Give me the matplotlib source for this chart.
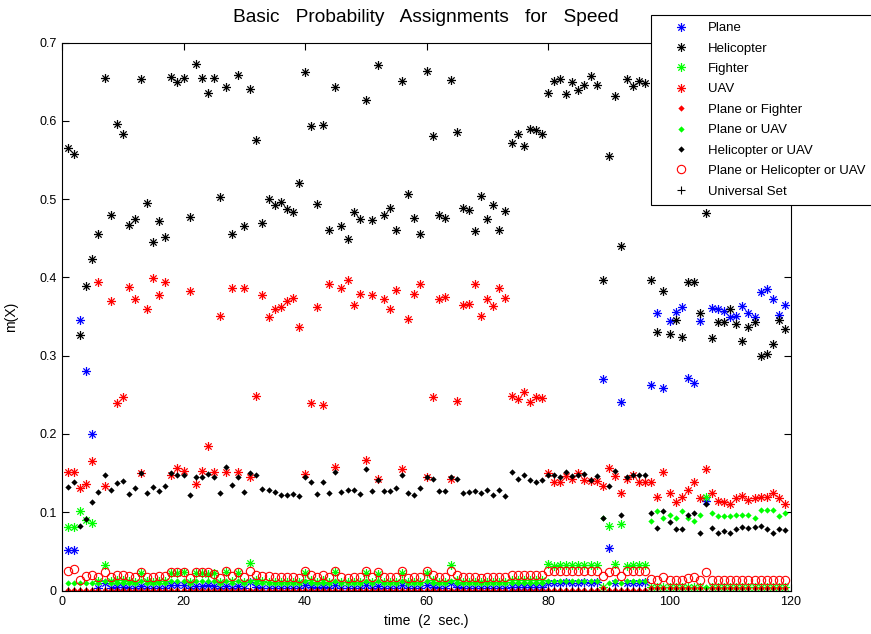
import matplotlib
matplotlib.use("Agg")
import matplotlib.pyplot as plt
from matplotlib.path import Path

plt.rcParams['font.family'] = ['Liberation Sans', 'DejaVu Sans']

# time steps (one every 2 sec.)
time = list(range(1, 120))

plane = [
    0.052, 0.052, 0.345, 0.280, 0.200, 0.003, 0.010, 0.003, 0.004, 0.004,
    0.003, 0.003, 0.006, 0.003, 0.003, 0.003, 0.003, 0.007, 0.007, 0.007,
    0.003, 0.006, 0.006, 0.007, 0.006, 0.003, 0.006, 0.003, 0.006, 0.003,
    0.011, 0.004, 0.003, 0.003, 0.003, 0.003, 0.003, 0.003, 0.003, 0.007,
    0.004, 0.003, 0.004, 0.003, 0.007, 0.003, 0.003, 0.003, 0.003, 0.007,
    0.003, 0.006, 0.003, 0.003, 0.003, 0.007, 0.003, 0.003, 0.003, 0.007,
    0.004, 0.003, 0.003, 0.010, 0.004, 0.003, 0.003, 0.003, 0.003, 0.003,
    0.003, 0.003, 0.003, 0.004, 0.004, 0.004, 0.004, 0.004, 0.004, 0.010,
    0.009, 0.010, 0.011, 0.010, 0.010, 0.011, 0.010, 0.011, 0.270, 0.054,
    0.010, 0.241, 0.010, 0.009, 0.010, 0.011, 0.263, 0.355, 0.259, 0.344,
    0.356, 0.362, 0.272, 0.265, 0.344, 0.114, 0.361, 0.360, 0.357, 0.349,
    0.351, 0.363, 0.355, 0.349, 0.381, 0.385, 0.372, 0.352, 0.365]

helicopter = [
    0.565, 0.557, 0.327, 0.389, 0.423, 0.456, 0.655, 0.480, 0.596, 0.583,
    0.467, 0.475, 0.653, 0.495, 0.445, 0.472, 0.452, 0.656, 0.649, 0.655,
    0.477, 0.673, 0.655, 0.635, 0.655, 0.503, 0.643, 0.456, 0.659, 0.466,
    0.641, 0.575, 0.469, 0.500, 0.493, 0.496, 0.487, 0.483, 0.521, 0.662,
    0.593, 0.494, 0.595, 0.461, 0.643, 0.465, 0.449, 0.484, 0.475, 0.627,
    0.473, 0.671, 0.480, 0.489, 0.461, 0.651, 0.507, 0.476, 0.455, 0.664,
    0.580, 0.480, 0.476, 0.652, 0.586, 0.489, 0.486, 0.459, 0.504, 0.475,
    0.493, 0.460, 0.485, 0.571, 0.583, 0.568, 0.589, 0.588, 0.583, 0.636,
    0.651, 0.654, 0.634, 0.649, 0.639, 0.646, 0.657, 0.646, 0.397, 0.555,
    0.632, 0.440, 0.653, 0.644, 0.651, 0.648, 0.397, 0.330, 0.383, 0.328,
    0.345, 0.324, 0.394, 0.394, 0.355, 0.482, 0.322, 0.343, 0.343, 0.359,
    0.340, 0.319, 0.336, 0.343, 0.299, 0.302, 0.315, 0.345, 0.334]

fighter = [
    0.081, 0.081, 0.102, 0.090, 0.086, 0.012, 0.033, 0.012, 0.014, 0.014,
    0.012, 0.011, 0.022, 0.012, 0.011, 0.012, 0.012, 0.022, 0.022, 0.023,
    0.011, 0.022, 0.022, 0.021, 0.022, 0.011, 0.023, 0.012, 0.022, 0.011,
    0.035, 0.014, 0.012, 0.011, 0.011, 0.011, 0.011, 0.011, 0.011, 0.022,
    0.014, 0.011, 0.014, 0.011, 0.023, 0.011, 0.011, 0.011, 0.011, 0.022,
    0.011, 0.021, 0.011, 0.011, 0.011, 0.022, 0.011, 0.011, 0.011, 0.022,
    0.014, 0.011, 0.011, 0.033, 0.014, 0.011, 0.011, 0.011, 0.011, 0.011,
    0.011, 0.011, 0.011, 0.014, 0.014, 0.014, 0.014, 0.014, 0.014, 0.034,
    0.031, 0.032, 0.033, 0.033, 0.033, 0.032, 0.032, 0.033, 0.005, 0.082,
    0.034, 0.085, 0.031, 0.032, 0.032, 0.033, 0.004, 0.004, 0.004, 0.004,
    0.004, 0.004, 0.004, 0.004, 0.004, 0.119, 0.004, 0.004, 0.004, 0.004,
    0.004, 0.004, 0.004, 0.004, 0.004, 0.004, 0.004, 0.004, 0.004]

uav = [
    0.152, 0.152, 0.131, 0.136, 0.165, 0.394, 0.133, 0.370, 0.240, 0.247,
    0.388, 0.372, 0.150, 0.360, 0.399, 0.378, 0.394, 0.148, 0.156, 0.153,
    0.382, 0.136, 0.153, 0.184, 0.151, 0.351, 0.152, 0.387, 0.151, 0.387,
    0.145, 0.248, 0.378, 0.350, 0.359, 0.362, 0.370, 0.373, 0.337, 0.149,
    0.240, 0.362, 0.237, 0.391, 0.158, 0.387, 0.397, 0.365, 0.379, 0.167,
    0.377, 0.143, 0.372, 0.360, 0.384, 0.155, 0.347, 0.379, 0.391, 0.145,
    0.247, 0.372, 0.375, 0.142, 0.242, 0.365, 0.366, 0.391, 0.351, 0.372,
    0.363, 0.387, 0.374, 0.248, 0.245, 0.254, 0.241, 0.247, 0.246, 0.150,
    0.139, 0.138, 0.146, 0.142, 0.150, 0.141, 0.140, 0.140, 0.134, 0.157,
    0.146, 0.124, 0.143, 0.147, 0.138, 0.139, 0.138, 0.119, 0.151, 0.125,
    0.113, 0.119, 0.129, 0.139, 0.118, 0.155, 0.124, 0.114, 0.113, 0.110,
    0.118, 0.121, 0.116, 0.118, 0.119, 0.119, 0.124, 0.118, 0.110]

plane_or_fighter = [
    0.001, 0.001, 0.001, 0.001, 0.001, 0.001, 0.001, 0.001, 0.001, 0.001,
    0.001, 0.001, 0.001, 0.001, 0.001, 0.001, 0.001, 0.001, 0.001, 0.001,
    0.001, 0.001, 0.001, 0.001, 0.001, 0.001, 0.001, 0.001, 0.001, 0.001,
    0.001, 0.001, 0.001, 0.001, 0.001, 0.001, 0.001, 0.001, 0.001, 0.001,
    0.001, 0.001, 0.001, 0.001, 0.001, 0.001, 0.001, 0.001, 0.001, 0.001,
    0.001, 0.001, 0.001, 0.001, 0.001, 0.001, 0.001, 0.001, 0.001, 0.001,
    0.001, 0.001, 0.001, 0.001, 0.001, 0.001, 0.001, 0.001, 0.001, 0.001,
    0.001, 0.001, 0.001, 0.001, 0.001, 0.001, 0.001, 0.001, 0.001, 0.001,
    0.001, 0.001, 0.001, 0.001, 0.001, 0.001, 0.001, 0.001, 0.003, 0.001,
    0.001, 0.001, 0.001, 0.001, 0.001, 0.001, 0.003, 0.003, 0.003, 0.003,
    0.003, 0.003, 0.003, 0.003, 0.003, 0.003, 0.003, 0.003, 0.003, 0.003,
    0.003, 0.003, 0.003, 0.003, 0.003, 0.003, 0.003, 0.003, 0.003]

plane_or_uav = [
    0.010, 0.010, 0.010, 0.010, 0.010, 0.010, 0.012, 0.010, 0.010, 0.010,
    0.010, 0.010, 0.012, 0.010, 0.010, 0.010, 0.010, 0.012, 0.012, 0.012,
    0.010, 0.012, 0.012, 0.012, 0.012, 0.010, 0.012, 0.010, 0.012, 0.010,
    0.012, 0.010, 0.010, 0.010, 0.010, 0.010, 0.010, 0.010, 0.010, 0.012,
    0.010, 0.010, 0.010, 0.010, 0.012, 0.010, 0.010, 0.010, 0.010, 0.012,
    0.010, 0.012, 0.010, 0.010, 0.010, 0.012, 0.010, 0.010, 0.010, 0.012,
    0.010, 0.010, 0.010, 0.012, 0.010, 0.010, 0.010, 0.010, 0.010, 0.010,
    0.010, 0.010, 0.010, 0.010, 0.010, 0.010, 0.010, 0.010, 0.010, 0.012,
    0.012, 0.012, 0.012, 0.012, 0.012, 0.012, 0.012, 0.012, 0.093, 0.010,
    0.012, 0.010, 0.012, 0.012, 0.012, 0.012, 0.089, 0.102, 0.092, 0.097,
    0.093, 0.102, 0.093, 0.089, 0.097, 0.004, 0.099, 0.095, 0.095, 0.095,
    0.097, 0.097, 0.097, 0.093, 0.103, 0.103, 0.103, 0.095, 0.099]

heli_or_uav = [
    0.132, 0.138, 0.082, 0.091, 0.113, 0.126, 0.148, 0.129, 0.137, 0.140,
    0.123, 0.131, 0.150, 0.125, 0.132, 0.127, 0.133, 0.150, 0.148, 0.147,
    0.122, 0.145, 0.145, 0.149, 0.145, 0.125, 0.158, 0.135, 0.145, 0.126,
    0.150, 0.147, 0.130, 0.129, 0.126, 0.122, 0.122, 0.123, 0.121, 0.145,
    0.138, 0.123, 0.138, 0.125, 0.151, 0.126, 0.129, 0.128, 0.123, 0.155,
    0.127, 0.141, 0.127, 0.127, 0.131, 0.147, 0.125, 0.122, 0.131, 0.145,
    0.142, 0.127, 0.127, 0.145, 0.142, 0.125, 0.126, 0.127, 0.125, 0.128,
    0.122, 0.129, 0.121, 0.151, 0.142, 0.147, 0.141, 0.138, 0.141, 0.148,
    0.148, 0.145, 0.152, 0.146, 0.148, 0.149, 0.141, 0.146, 0.093, 0.134,
    0.153, 0.096, 0.145, 0.147, 0.148, 0.148, 0.099, 0.080, 0.101, 0.088,
    0.079, 0.079, 0.097, 0.099, 0.073, 0.111, 0.080, 0.074, 0.076, 0.074,
    0.078, 0.081, 0.080, 0.081, 0.082, 0.078, 0.073, 0.079, 0.077]

plane_heli_or_uav = [
    0.025, 0.027, 0.014, 0.018, 0.020, 0.017, 0.024, 0.017, 0.020, 0.020,
    0.018, 0.017, 0.024, 0.017, 0.017, 0.018, 0.018, 0.024, 0.024, 0.024,
    0.016, 0.024, 0.024, 0.023, 0.021, 0.016, 0.025, 0.018, 0.024, 0.017,
    0.025, 0.020, 0.019, 0.018, 0.017, 0.017, 0.017, 0.017, 0.016, 0.025,
    0.020, 0.017, 0.020, 0.017, 0.025, 0.017, 0.016, 0.017, 0.017, 0.025,
    0.017, 0.024, 0.017, 0.017, 0.017, 0.025, 0.016, 0.017, 0.017, 0.025,
    0.020, 0.017, 0.017, 0.025, 0.020, 0.017, 0.017, 0.017, 0.016, 0.017,
    0.017, 0.017, 0.017, 0.020, 0.020, 0.020, 0.020, 0.020, 0.020, 0.025,
    0.025, 0.025, 0.025, 0.025, 0.025, 0.025, 0.025, 0.025, 0.019, 0.024,
    0.025, 0.019, 0.025, 0.025, 0.025, 0.025, 0.015, 0.013, 0.017, 0.014,
    0.013, 0.014, 0.016, 0.017, 0.013, 0.024, 0.014, 0.014, 0.014, 0.014,
    0.014, 0.014, 0.014, 0.014, 0.014, 0.014, 0.014, 0.014, 0.014]

universal = [
    0.0, 0.0, 0.0, 0.0, 0.0, 0.0, 0.0, 0.0, 0.0, 0.0,
    0.0, 0.0, 0.0, 0.0, 0.0, 0.0, 0.0, 0.0, 0.0, 0.0,
    0.0, 0.0, 0.0, 0.0, 0.0, 0.0, 0.0, 0.0, 0.0, 0.0,
    0.0, 0.0, 0.0, 0.0, 0.0, 0.0, 0.0, 0.0, 0.0, 0.0,
    0.0, 0.0, 0.0, 0.0, 0.0, 0.0, 0.0, 0.0, 0.0, 0.0,
    0.0, 0.0, 0.0, 0.0, 0.0, 0.0, 0.0, 0.0, 0.0, 0.0,
    0.0, 0.0, 0.0, 0.0, 0.0, 0.0, 0.0, 0.0, 0.0, 0.0,
    0.0, 0.0, 0.0, 0.0, 0.0, 0.0, 0.0, 0.0, 0.0, 0.0,
    0.0, 0.0, 0.0, 0.0, 0.0, 0.0, 0.0, 0.0, 0.0, 0.0,
    0.0, 0.0, 0.0, 0.0, 0.0, 0.0, 0.0, 0.0, 0.0, 0.0,
    0.0, 0.0, 0.0, 0.0, 0.0, 0.0, 0.0, 0.0, 0.0, 0.0,
    0.0, 0.0, 0.0, 0.0, 0.0, 0.0, 0.0, 0.0, 0.0]

xticks = [0, 20, 40, 60, 80, 100, 120]
yticks = [0, 0.1, 0.2, 0.3, 0.4, 0.5, 0.6, 0.7]
ytick_labels = ['0', '0.1', '0.2', '0.3', '0.4', '0.5', '0.6', '0.7']

# asterisk: a plus with shorter diagonal strokes
d = 0.7
star = Path([(-1, 0), (1, 0), (0, -1), (0, 1), (-d, -d), (d, d), (-d, d), (d, -d)],
            [Path.MOVETO, Path.LINETO] * 4)

fig = plt.figure(figsize=(8.71, 6.34), dpi=100)
ax = fig.add_axes([62 / 871, 1 - 590.5 / 634, (791 - 62) / 871, (590.5 - 42.5) / 634])

star_kw = dict(linestyle='none', marker=star, markersize=6.5, markerfacecolor='none', markeredgewidth=0.9)
dot_kw = dict(linestyle='none', marker='D', markersize=3.2, markeredgewidth=0)

ax.plot(time, plane, color='#0000ff', label='Plane', **star_kw)
ax.plot(time, helicopter, color='black', label='Helicopter', **star_kw)
ax.plot(time, fighter, color='#00ff00', label='Fighter', **star_kw)
ax.plot(time, uav, color='#ff0000', label='UAV', **star_kw)
ax.plot(time, plane_or_fighter, color='#ff0000', label='Plane or Fighter', **dot_kw)
ax.plot(time, plane_or_uav, color='#00ff00', label='Plane or UAV', **dot_kw)
ax.plot(time, heli_or_uav, color='black', label='Helicopter or UAV', **dot_kw)
ax.plot(time, plane_heli_or_uav, linestyle='none', marker='o', markersize=6,
        markerfacecolor='none', markeredgecolor='#ff0000', markeredgewidth=0.8,
        label='Plane or Helicopter or UAV')
ax.plot(time, universal, linestyle='none', marker='+', markersize=6, color='black',
        markeredgewidth=0.8, label='Universal Set')

ax.set_xlim(0, 120)
ax.set_ylim(0, 0.7)
ax.set_xticks(xticks)
ax.set_yticks(yticks)
ax.set_yticklabels(ytick_labels)
ax.tick_params(direction='in', length=5, width=0.8, top=True, right=True,
               labelsize=9, pad=4)
for s in ax.spines.values():
    s.set_linewidth(0.8)

ax.set_xlabel('time  (2  sec.)', fontsize=10)
ax.xaxis.set_label_coords(0.5, -0.043)
ax.set_ylabel('m(X)', fontsize=10)
ax.yaxis.set_label_coords(-0.06, 0.5)

fig.text(426 / 871, 1 - 18 / 634, 'Basic   Probability   Assignments   for   Speed',
         ha='center', va='center', fontsize=13.8)

leg = fig.legend(loc='upper left', bbox_to_anchor=(651 / 871, 1 - 14.7 / 634),
                 fontsize=9.5, frameon=True, fancybox=False, framealpha=1,
                 edgecolor='black', borderpad=0.55, handlelength=3.4,
                 handletextpad=0.35, labelspacing=0.62, borderaxespad=0,
                 numpoints=1)
leg.get_frame().set_linewidth(0.8)

fig.savefig('out.png', dpi=100)
